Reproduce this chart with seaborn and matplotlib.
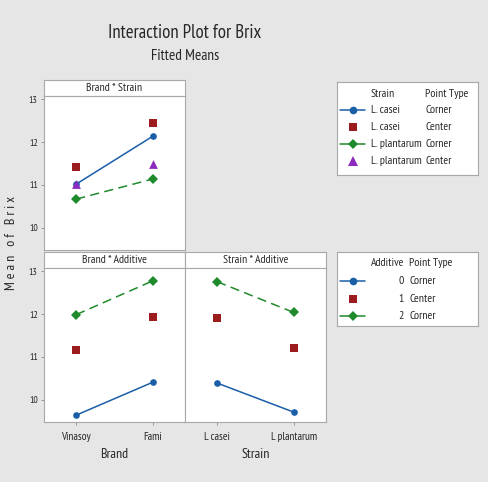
import matplotlib
matplotlib.use("Agg")
import matplotlib.pyplot as plt
import pandas as pd
import seaborn as sns
from matplotlib.lines import Line2D

# data
brand = ["Vinasoy", "Fami"]
strain = ["L casei", "L plantarum"]
strain_names = ["L. casei", "L. plantarum"]
additive = ["0", "1", "2"]

bs_casei_corner = [11.02, 12.14]
bs_casei_center = [11.41, 12.46]
bs_plant_corner = [10.67, 11.14]
bs_plant_center = [11.03, 11.49]

ba_add0 = [9.64, 10.41]
ba_add1 = [11.17, 11.94]
ba_add2 = [11.99, 12.78]

sa_add0 = [10.39, 9.71]
sa_add1 = [11.92, 11.21]
sa_add2 = [12.76, 12.04]

blue, red, green, purple = "#1a5ea8", "#9b1c1f", "#1f8a2c", "#8e2bbf"
edge = "#a8a8a8"
bg = "#e6e6e6"
dash = (6, 3.5)

sns.set_style("white")
plt.rcParams['font.family'] = ['PT Sans Narrow', 'Carlito', 'DejaVu Sans']

fig = plt.figure(figsize=(4.88, 4.82), dpi=100, facecolor=bg)
W, H = 488, 482


def box(x0, y0, x1, y1):
    return [x0 / W, 1 - y1 / H, (x1 - x0) / W, (y1 - y0) / H]


def strip(x0, y0, x1, y1, text):
    s = fig.add_axes(box(x0, y0, x1, y1))
    s.set_facecolor("white")
    s.set_xticks([]); s.set_yticks([])
    for sp in s.spines.values():
        sp.set_color(edge); sp.set_linewidth(0.8)
    s.text(0.5, 0.47, text, ha="center", va="center", fontsize=8.5, transform=s.transAxes)


def panel(x0, y0, x1, y1, lines, points, title, xt=None, xl=None, yt=True):
    strip(x0, y0 - 16, x1, y0, title)
    ax = fig.add_axes(box(x0, y0, x1, y1))
    ax.set_facecolor("white")
    line_df = pd.DataFrame([(i, v, name) for name, vals, _, _, _ in lines
                            for i, v in enumerate(vals)], columns=["x", "y", "s"])
    sns.lineplot(data=line_df, x="x", y="y", hue="s", style="s",
                 palette={n: c for n, _, c, _, _ in lines},
                 markers={n: m for n, _, _, m, _ in lines},
                 dashes={n: d for n, _, _, _, d in lines},
                 markersize=4.8, markeredgewidth=0, linewidth=1.1,
                 legend=False, ax=ax)
    for name, vals, col, mk in points:
        sns.scatterplot(x=[0, 1], y=vals, color=col, marker=mk, zorder=3,
                        s=40 if mk == "^" else 26, linewidth=0, legend=False, ax=ax)
    ax.set_xlim(-0.42, 1.42)
    ax.set_ylim(9.48, 13.08)
    ax.set_yticks([10, 11, 12, 13])
    for sp in ax.spines.values():
        sp.set_color(edge); sp.set_linewidth(0.8)
    ax.tick_params(axis="both", length=2.5, width=0.6, color="#888888",
                   labelsize=7, pad=2)
    if yt:
        ax.tick_params(axis="y", left=True)
    else:
        ax.tick_params(axis="y", left=False, labelleft=False)
    if xt is None:
        ax.set_xticks([])
    else:
        ax.set_xticks([0, 1])
        ax.set_xticklabels(xt)
        ax.tick_params(axis="x", bottom=True, labelsize=8, pad=5)
    ax.set_xlabel(xl if xl else "", fontsize=10, labelpad=4)
    ax.set_ylabel("")
    return ax


panel(44, 96, 185, 250,
      [("casei", bs_casei_corner, blue, "o", ""), ("plant", bs_plant_corner, green, "D", dash)],
      [("casei", bs_casei_center, red, "s"), ("plant", bs_plant_center, purple, "^")],
      "Brand * Strain")
panel(44, 268, 185, 422,
      [("a0", ba_add0, blue, "o", ""), ("a2", ba_add2, green, "D", dash)],
      [("a1", ba_add1, red, "s")],
      "Brand * Additive", xt=brand, xl="Brand")
panel(185, 268, 326, 422,
      [("a0", sa_add0, blue, "o", ""), ("a2", sa_add2, green, "D", dash)],
      [("a1", sa_add1, red, "s")],
      "Strain * Additive", xt=strain, xl="Strain", yt=False)

fig.text(185 / W, 1 - 37.5 / H, "Interaction Plot for Brix", ha="center", va="baseline", fontsize=13.5)
fig.text(185 / W, 1 - 60 / H, "Fitted Means", ha="center", va="baseline", fontsize=11)
fig.text(12 / W, 1 - 243 / H, "M e a n   o f   B r i x", rotation=90,
         ha="center", va="center", fontsize=10)


def legend_box(x0, y0, x1, y1, header, rows, lab_x, lab_ha, pt_x):
    lg = fig.add_axes(box(x0, y0, x1, y1))
    lg.set_facecolor("white")
    lg.set_xlim(x0, x1); lg.set_ylim(y1, y0)
    lg.set_xticks([]); lg.set_yticks([])
    for sp in lg.spines.values():
        sp.set_color(edge); sp.set_linewidth(0.8)
    ty, step = header
    lg.text(lab_x, ty, rows[0][0], ha=lab_ha, va="center", fontsize=8.5)
    lg.text(pt_x, ty, "Point Type", ha="left", va="center", fontsize=8.5)
    for k, (lab, pt, col, mk, ls) in enumerate(rows[1:]):
        y = ty + step * (k + 1)
        if ls is not None:
            lg.add_line(Line2D([340, 365], [y, y], color=col, lw=1.1, linestyle=ls))
        lg.add_line(Line2D([352.5], [y], color=col, marker=mk,
                           markersize=6.5 if mk == "^" else 5.5, markeredgewidth=0))
        lg.text(lab_x, y, lab, ha=lab_ha, va="center", fontsize=8.5)
        lg.text(pt_x, y, pt, ha="left", va="center", fontsize=8.5)


legend_box(337, 82, 478, 175, (93.5, 16.8),
           [("Strain", None, None, None, None),
            (strain_names[0], "Corner", blue, "o", "-"),
            (strain_names[0], "Center", red, "s", None),
            (strain_names[1], "Corner", green, "D", "-"),
            (strain_names[1], "Center", purple, "^", None)],
           371, "left", 425)
legend_box(337, 252, 478, 326, (263.5, 17.5),
           [("Additive", None, None, None, None),
            (additive[0], "Corner", blue, "o", "-"),
            (additive[1], "Center", red, "s", None),
            (additive[2], "Corner", green, "D", "-")],
           404, "right", 409)

fig.savefig("out.png", dpi=100, facecolor=bg)
